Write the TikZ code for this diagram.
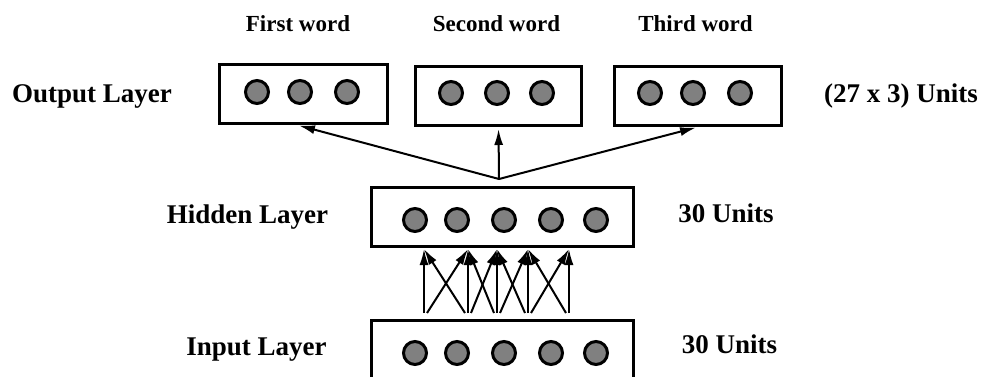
\documentclass[tikz,border=0pt]{standalone}
\usepackage{fontspec}
\setmainfont{Liberation Serif}
\usetikzlibrary{arrows.meta}

\begin{document}
\begin{tikzpicture}[x=1pt,y=-1pt]
  \tikzstyle{layer}=[draw,line width=3pt,inner sep=0pt,minimum height=59pt]
  \tikzstyle{unit}=[circle,draw,fill=gray,line width=3pt,inner sep=0pt,minimum size=23pt]
  \tikzstyle{lbl}=[anchor=base,font=\bfseries\fontsize{27}{32}\selectfont]
  \tikzstyle{wordlbl}=[anchor=base,font=\bfseries\fontsize{23}{28}\selectfont]
  \tikzstyle{link}=[line width=2pt,-{Latex[length=16pt,width=9pt]}]

  \path[use as bounding box,clip] (0,0) rectangle (982,377);

  \node[layer,minimum width=168pt] (O1) at (303.5,94)    {};
  \node[layer,minimum width=166pt] (O2) at (498.5,96)    {};
  \node[layer,minimum width=167pt] (O3) at (698,96)      {};
  \node[layer,minimum width=262pt] (H)  at (502.5,216.5) {};
  \node[layer,minimum width=262pt] (I)  at (502.5,350)   {};

  \foreach \x/\y [count=\i] in {257/92,300/92,347/92,451/93,497/93,542/93,650/93,693/93,740/93}
    \node[unit] (o\i) at (\x,\y) {};
  \foreach \x [count=\i] in {415,457,504,551,596} {
    \node[unit] (h\i) at (\x,220) {};
    \node[unit] (i\i) at (\x,353) {};
  }

  \node[lbl] (outlbl)   at (92,103)    {Output Layer};
  \node[lbl] (outunits) at (901,103)   {(27 x 3) Units};
  \node[lbl] (hidlbl)   at (247.5,223) {Hidden Layer};
  \node[lbl] (hidunits) at (726,222)   {30 Units};
  \node[lbl] (inlbl)    at (256.5,355) {Input Layer};
  \node[lbl] (inunits)  at (729.5,353) {30 Units};
  \node[wordlbl] (w1) at (298,32)   {First word};
  \node[wordlbl] (w2) at (496.5,32) {Second word};
  \node[wordlbl] (w3) at (695.5,32) {Third word};

  \coordinate (fan) at (499,179);
  \draw[link,shorten >=2pt] (fan) -- ([xshift=-6.5pt]O1.south);
  \draw[link,shorten >=2pt] (fan) -- (O2.south);
  \draw[link,shorten >=2pt] (fan) -- (O3.south);

  \foreach \x [count=\i] in {424,468,497,528,569} {
    \coordinate (s\i) at (\x,313);
    \coordinate (t\i) at (\x,249);
  }
  \foreach \i in {1,...,5}
    \draw[link] (s\i) -- (t\i);
  \foreach \i/\j in {1/2,2/3,3/4,4/5} {
    \draw[link] ([xshift=3pt]s\i) -- (t\j);
    \draw[link] ([xshift=-3pt]s\j) -- (t\i);
  }
\end{tikzpicture}
\end{document}
